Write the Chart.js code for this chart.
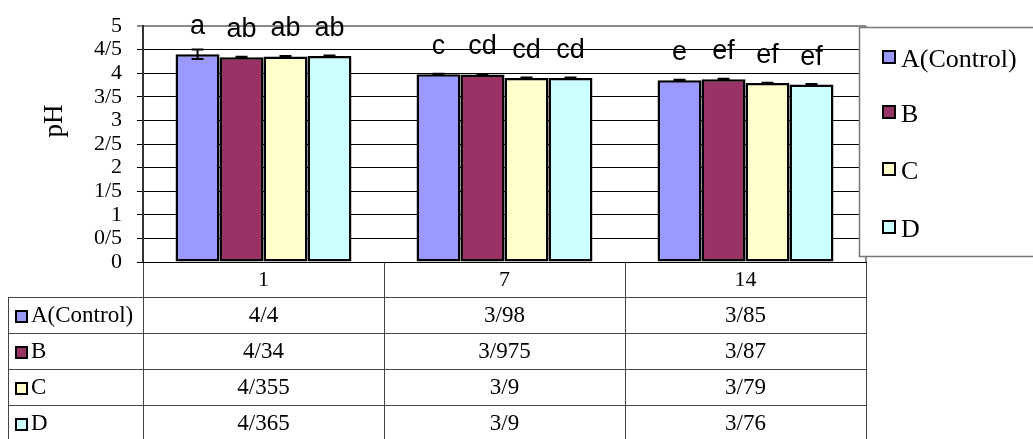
<!DOCTYPE html>
<html>
<head>
<meta charset="utf-8">
<script src="https://cdn.jsdelivr.net/npm/chart.js@4/dist/chart.umd.min.js"></script>
<style>
  html, body { margin: 0; padding: 0; background: #fff; }
  #wrap { width: 1033px; height: 439px; position: relative; }
</style>
</head>
<body>
<div id="wrap"><canvas id="myChart" width="1033" height="439"></canvas></div>
<script>
// days
const labels = ["1", "7", "14"];

// pH values per treatment
const seriesNames = ["A(Control)", "B", "C", "D"];
const valA = [4.4, 3.98, 3.85];
const valB = [4.34, 3.975, 3.87];
const valC = [4.355, 3.9, 3.79];
const valD = [4.365, 3.9, 3.76];

// error bars (+/-)
const errA = [0.1, 0.01, 0.01];
const errB = [0.01, 0.01, 0.01];
const errC = [0.01, 0.01, 0.01];
const errD = [0.01, 0.01, 0.01];

// significance letters
const letA = ["a", "c", "e"];
const letB = ["ab", "cd", "ef"];
const letC = ["ab", "cd", "ef"];
const letD = ["ab", "cd", "ef"];

const colors = ["#9999FF", "#993366", "#FFFFCC", "#CCFFFF"];

const allVals = [valA, valB, valC, valD];
const allErr = [errA, errB, errC, errD];
const allLet = [letA, letB, letC, letD];

// Persian-style decimal with slash
const fmt = (v) => String(v).replace(".", "/");

const serif = "'Liberation Serif', 'Times New Roman', serif";
const sans = "'Liberation Sans', Arial, sans-serif";

const extras = {
  id: "extras",
  beforeDatasetsDraw(chart) {
    const ctx = chart.ctx;
    const a = chart.chartArea;
    ctx.save();
    // right border of plot area
    ctx.strokeStyle = "#8a8a8a";
    ctx.lineWidth = 2;
    ctx.beginPath();
    ctx.moveTo(a.right, a.top);
    ctx.lineTo(a.right, a.bottom);
    ctx.stroke();
    ctx.restore();
  },
  afterDatasetsDraw(chart) {
    const ctx = chart.ctx;
    const y = chart.scales.y;
    const x = chart.scales.x;
    const a = chart.chartArea;
    ctx.save();

    // error bars and letters
    for (let d = 0; d < 4; d++) {
      const meta = chart.getDatasetMeta(d);
      meta.data.forEach((bar, i) => {
        const v = allVals[d][i];
        const e = allErr[d][i];
        const yt = y.getPixelForValue(v + e);
        const yb = y.getPixelForValue(v - e);
        ctx.strokeStyle = "#000";
        ctx.lineWidth = 2;
        ctx.beginPath();
        ctx.moveTo(bar.x, yt);
        ctx.lineTo(bar.x, yb);
        ctx.moveTo(bar.x - 6, yt);
        ctx.lineTo(bar.x + 6, yt);
        ctx.moveTo(bar.x - 6, yb);
        ctx.lineTo(bar.x + 6, yb);
        ctx.stroke();

        ctx.fillStyle = "#000";
        ctx.font = "27px " + sans;
        ctx.textAlign = "center";
        ctx.textBaseline = "alphabetic";
        ctx.fillText(allLet[d][i], bar.x, bar.y - 20);
      });
    }

    // y title
    ctx.save();
    ctx.translate(55, 121);
    ctx.rotate(-Math.PI / 2);
    ctx.font = "27px " + serif;
    ctx.textAlign = "center";
    ctx.textBaseline = "middle";
    ctx.fillStyle = "#000";
    ctx.fillText("pH", 0, 0);
    ctx.restore();

    // data table
    const rowTop = a.bottom + 35;
    const rowH = 36;
    const tableLeft = 8;
    const step = x.getPixelForValue(1) - x.getPixelForValue(0);
    const edges = [];
    for (let i = 0; i < labels.length; i++) {
      edges.push(x.getPixelForValue(i) - step / 2);
    }
    edges.push(a.right);
    ctx.strokeStyle = "#444";
    ctx.lineWidth = 1;
    ctx.beginPath();
    for (let r = 0; r <= 4; r++) {
      const yy = Math.round(rowTop + r * rowH) + 0.5;
      ctx.moveTo(tableLeft, yy);
      ctx.lineTo(a.right, yy);
    }
    ctx.moveTo(tableLeft + 0.5, rowTop);
    ctx.lineTo(tableLeft + 0.5, 439);
    edges.forEach((ex) => {
      ctx.moveTo(Math.round(ex) + 0.5, rowTop);
      ctx.lineTo(Math.round(ex) + 0.5, 439);
    });
    ctx.stroke();

    for (let r = 0; r < 4; r++) {
      const base = rowTop + r * rowH + 25;
      // legend key
      ctx.fillStyle = colors[r];
      ctx.fillRect(16, base - 11, 11, 11);
      ctx.strokeStyle = "#000";
      ctx.lineWidth = 2;
      ctx.strokeRect(16, base - 11, 11, 11);
      ctx.fillStyle = "#000";
      ctx.font = "23px " + serif;
      ctx.textAlign = "left";
      ctx.textBaseline = "alphabetic";
      ctx.fillText(seriesNames[r], 31, base);
      ctx.textAlign = "center";
      for (let c = 0; c < labels.length; c++) {
        ctx.fillText(fmt(allVals[r][c]), x.getPixelForValue(c), base);
      }
    }

    // legend box
    const lx = 859, ly = 27, lw = 220, lh = 229;
    ctx.fillStyle = "#fff";
    ctx.fillRect(lx, ly, lw, lh);
    ctx.strokeStyle = "#777";
    ctx.lineWidth = 1.5;
    ctx.strokeRect(lx + 0.5, ly + 0.5, lw, lh);
    const legBase = [67, 122, 179, 237];
    for (let r = 0; r < 4; r++) {
      ctx.fillStyle = colors[r];
      ctx.fillRect(883, legBase[r] - 16, 12, 12);
      ctx.strokeStyle = "#000";
      ctx.lineWidth = 2;
      ctx.strokeRect(883, legBase[r] - 16, 12, 12);
      ctx.fillStyle = "#000";
      ctx.font = "26px " + serif;
      ctx.textAlign = "left";
      ctx.textBaseline = "alphabetic";
      ctx.fillText(seriesNames[r], 901, legBase[r]);
    }
    ctx.restore();
  }
};

const ctx = document.getElementById("myChart");

new Chart(ctx, {
  type: "bar",
  data: {
    labels: labels,
    datasets: seriesNames.map((name, i) => ({
      label: name,
      data: allVals[i],
      backgroundColor: colors[i],
      borderColor: "#000",
      borderWidth: 2.5,
      borderSkipped: false,
      categoryPercentage: 0.73,
      barPercentage: 1.0,
    })),
  },
  options: {
    responsive: false,
    animation: false,
    devicePixelRatio: 1,
    layout: { padding: { top: 22, right: 167, bottom: 0, left: 0 } },
    plugins: {
      legend: { display: false },
      tooltip: { enabled: false },
    },
    scales: {
      y: {
        min: 0,
        max: 5,
        afterFit: (s) => { s.width = 143; },
        ticks: {
          stepSize: 0.5,
          autoSkip: false,
          color: "#000",
          padding: 15,
          font: { family: serif, size: 22, lineHeight: 1 },
          callback: (v) => fmt(v),
        },
        grid: {
          color: (c) => (c.tick && c.tick.value === 5 ? "#8a8a8a" : "#000"),
          lineWidth: (c) => (c.tick && c.tick.value === 5 ? 2 : 1),
          tickLength: 6,
        },
        border: { color: "#333", width: 2 },
      },
      x: {
        afterFit: (s) => { s.height = 177; },
        ticks: {
          color: "#000",
          padding: -30,
          maxRotation: 0,
          font: { family: serif, size: 22 },
        },
        grid: {
          offset: true,
          drawOnChartArea: false,
          tickLength: 35,
          color: "#444",
        },
        border: { color: "#000", width: 1 },
      },
    },
  },
  plugins: [extras],
});
</script>
</body>
</html>
